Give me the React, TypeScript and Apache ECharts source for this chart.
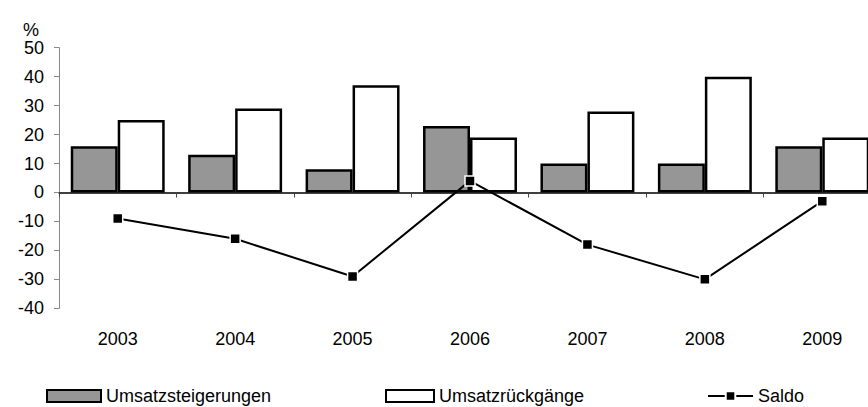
import React, { useEffect, useRef } from "react";
import * as echarts from "echarts";

const years = ["2003", "2004", "2005", "2006", "2007", "2008", "2009"];
const steigerungen = [16, 13, 8, 23, 10, 10, 16];
const rueckgaenge = [25, 29, 37, 19, 28, 40, 19];
const saldo = [-9, -16, -29, 4, -18, -30, -3];
const yTicks = { min: -40, max: 50, interval: 10 };

const FONT = "'Liberation Sans', Arial, sans-serif";
const FS = 18;

export default function App() {
  const ref = useRef<HTMLDivElement>(null);
  useEffect(() => {
    if (!ref.current) return;
    const chart = echarts.init(ref.current, undefined, { renderer: "svg" });
    const legendText = { fontFamily: FONT, fontSize: FS, color: "#000" };
    chart.setOption({
      animation: false,
      textStyle: { fontFamily: FONT },
      grid: {
        left: 59,
        width: 822,
        top: 47.7,
        bottom: 98.7,
        containLabel: false,
        outerBoundsMode: "none",
      },
      legend: [
        {
          data: [{ name: "Umsatzsteigerungen", icon: "rect" }],
          left: 46,
          top: 387,
          padding: 0,
          itemWidth: 54,
          itemHeight: 12,
          textStyle: legendText,
        },
        {
          data: [{ name: "Umsatzrückgänge", icon: "rect" }],
          left: 385,
          top: 387,
          padding: 0,
          itemWidth: 48,
          itemHeight: 12,
          textStyle: legendText,
        },
        {
          data: ["Saldo"],
          left: 707,
          top: 387,
          padding: 0,
          itemWidth: 45,
          itemHeight: 12,
          textStyle: legendText,
        },
      ],
      xAxis: [
        {
          type: "category",
          data: years,
          position: "bottom",
          axisLine: { show: false, onZero: false },
          axisTick: { show: false },
          axisLabel: { margin: 22, fontSize: FS, color: "#000", fontFamily: FONT },
        },
        {
          type: "category",
          data: years,
          position: "bottom",
          axisLine: { show: true, onZero: true, lineStyle: { color: "#000", width: 1.5 } },
          axisTick: { show: true, length: 5, lineStyle: { color: "#444", width: 1 } },
          axisLabel: { show: false },
        },
      ],
      yAxis: {
        type: "value",
        min: yTicks.min,
        max: yTicks.max,
        interval: yTicks.interval,
        name: "%",
        nameLocation: "end",
        nameGap: 5,
        nameTextStyle: { align: "right", padding: [0, 20, 0, 0], fontSize: FS, color: "#000", fontFamily: FONT },
        axisLine: { show: true, lineStyle: { color: "#888", width: 1 } },
        axisTick: { show: true, length: 5, lineStyle: { color: "#888" } },
        axisLabel: { margin: 15, fontSize: FS, color: "#000", fontFamily: FONT },
        splitLine: { show: false },
      },
      series: [
        {
          name: "Umsatzsteigerungen",
          type: "bar",
          data: steigerungen,
          barGap: "0%",
          barCategoryGap: "20%",
          itemStyle: { color: "#969696", borderColor: "#000", borderWidth: 2.5 },
        },
        {
          name: "Umsatzrückgänge",
          type: "bar",
          data: rueckgaenge,
          barGap: "0%",
          barCategoryGap: "20%",
          itemStyle: { color: "#fff", borderColor: "#000", borderWidth: 2.5 },
        },
        {
          name: "Saldo",
          type: "line",
          data: saldo,
          symbol: "rect",
          symbolSize: 10,
          z: 5,
          lineStyle: { color: "#000", width: 2 },
          itemStyle: { color: "#000", borderColor: "#fff", borderWidth: 1.5 },
        },
      ],
    });
    return () => chart.dispose();
  }, []);
  return (
    <div
      ref={ref}
      style={{ position: "absolute", left: 0, top: 0, width: 868, height: 407, background: "#fff" }}
    />
  );
}
